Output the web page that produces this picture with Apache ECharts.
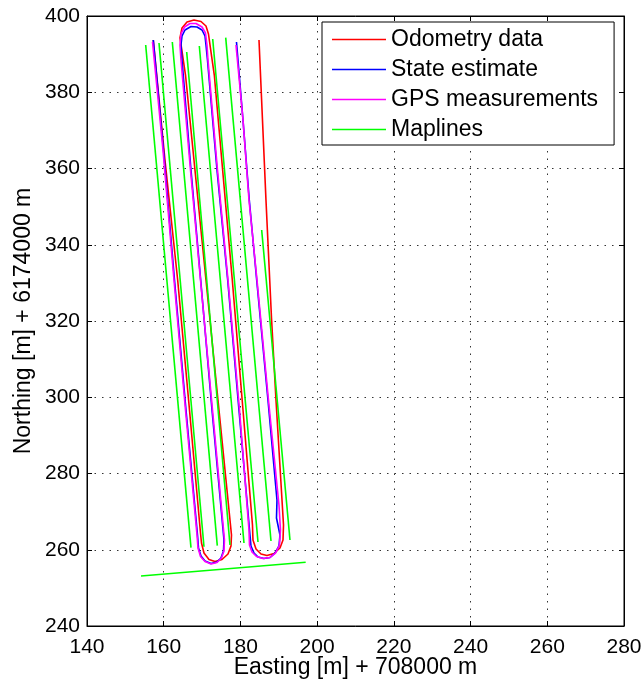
<!DOCTYPE html>
<html>
<head>
<meta charset="utf-8">
<script src="https://cdn.jsdelivr.net/npm/echarts@6/dist/echarts.min.js"></script>
<style>
html,body{margin:0;padding:0;background:#fff;}
#chart{width:642px;height:686px;}
</style>
</head>
<body>
<div id="chart"></div>
<script>
// Axis ranges / ticks
var xTicks = [140, 160, 180, 200, 220, 240, 260, 280];
var yTicks = [240, 260, 280, 300, 320, 340, 360, 380, 400];

// Odometry data [easting, northing]
var odometry = [
  [157.28, 393.70], [160.33, 362.23], [163.64, 330.75], [166.72, 296.65], [169.59, 264.39],
  [169.85, 261.77], [170.50, 259.14], [171.80, 257.44], [173.37, 256.92], [175.19, 257.44],
  [176.76, 258.88], [177.54, 260.98], [177.67, 263.87],
  [174.41, 296.65], [171.02, 330.75], [168.15, 359.61], [165.68, 384.52], [164.64, 391.61],
  [164.24, 394.23], [164.77, 396.85], [166.07, 398.43], [167.89, 398.95], [169.72, 398.56],
  [171.02, 397.38], [171.67, 395.28], [172.07, 392.39], [173.19, 384.52],
  [177.88, 330.75], [180.67, 296.65], [183.14, 266.49],
  [183.27, 262.56], [184.06, 260.20], [185.36, 258.88], [186.92, 258.49], [188.75, 259.01],
  [190.31, 260.46], [191.10, 262.56], [191.23, 266.49],
  [189.27, 299.28], [188.10, 320.79], [186.66, 351.74], [184.84, 393.70]
];

// State estimate
var stateEstimate = [
  [157.28, 393.70], [159.94, 364.85], [162.81, 330.75], [165.81, 296.65], [168.81, 263.87],
  [169.07, 260.46], [169.72, 258.36], [170.76, 257.05], [172.33, 256.39], [173.89, 256.79],
  [174.93, 257.84], [175.58, 259.67], [175.71, 262.56],
  [172.59, 296.65], [169.64, 330.75], [167.11, 359.61], [164.77, 388.46],
  [164.50, 392.39], [164.77, 394.75], [165.55, 396.33], [167.11, 397.25], [168.68, 397.11],
  [169.98, 396.33], [170.76, 394.75], [171.02, 392.39],
  [171.41, 388.46], [173.89, 359.61], [176.68, 330.75], [179.62, 296.65], [182.49, 263.87],
  [182.75, 260.98], [183.54, 259.14], [184.58, 258.09], [186.14, 257.70], [187.71, 257.97],
  [189.01, 259.14], [190.05, 260.98], [190.31, 263.87],
  [189.40, 268.32], [189.53, 273.05], [187.18, 299.28], [184.24, 330.75], [182.31, 351.74],
  [180.67, 372.72], [178.97, 393.18]
];

// GPS measurements
var gpsMeasurements = [
  [157.08, 393.18], [159.81, 364.85], [162.68, 330.75], [165.68, 296.65], [168.68, 263.87],
  [168.94, 260.46], [169.59, 258.22], [170.76, 256.92], [172.33, 256.26], [173.89, 256.65],
  [175.06, 257.84], [175.71, 259.67], [175.84, 262.56],
  [172.72, 296.65], [169.59, 330.75], [166.98, 359.61], [164.50, 388.46],
  [164.24, 392.39], [164.50, 395.28], [165.42, 397.11], [166.85, 398.03], [168.42, 398.03],
  [169.98, 397.11], [170.89, 395.54], [171.28, 392.39],
  [171.54, 388.46], [174.02, 359.61], [176.76, 330.75], [179.76, 296.65], [182.23, 265.18],
  [182.36, 261.24], [183.01, 259.41], [184.19, 258.22], [185.88, 257.70], [187.71, 257.97],
  [189.14, 259.14], [190.18, 261.24], [190.44, 265.18],
  [190.05, 271.74], [187.31, 299.28], [184.32, 330.75], [182.23, 351.74], [180.67, 372.72],
  [178.84, 392.39]
];

// Maplines (each a straight segment)
var maplines = [
  [[155.30, 392.39], [167.11, 260.54]],
  [[158.77, 392.92], [170.50, 260.80]],
  [[162.24, 393.18], [173.97, 261.07]],
  [[165.99, 390.56], [177.28, 261.25]],
  [[169.28, 392.13], [180.93, 261.77]],
  [[172.77, 393.97], [184.58, 262.03]],
  [[176.16, 394.31], [187.97, 262.30]],
  [[185.54, 343.87], [192.92, 262.56]],
  [[154.08, 253.12], [197.01, 256.71]]
];

var FONT = 'Liberation Sans';
var chart = echarts.init(document.getElementById('chart'), null, {renderer: 'canvas'});

function lineSeries(name, data, color) {
  return {
    name: name, type: 'line', data: data, symbol: 'none', showSymbol: false,
    lineStyle: {color: color, width: 1.6}, itemStyle: {color: color},
    animation: false, silent: true, xAxisIndex: 0, yAxisIndex: 0
  };
}

var series = [
  lineSeries('Odometry data', odometry, '#ff0000'),
  lineSeries('State estimate', stateEstimate, '#0000ff'),
  lineSeries('GPS measurements', gpsMeasurements, '#ff00ff')
];
maplines.forEach(function (seg) {
  series.push(lineSeries('Maplines', seg, '#00ff00'));
});

var gridLine = {show: true, lineStyle: {color: '#333', width: 1, type: [1.5, 6]}};
var tickIn = {show: true, inside: true, length: 5, lineStyle: {color: '#000'}};

var option = {
  animation: false,
  backgroundColor: '#fff',
  grid: {left: 87, right: 18, top: 16, bottom: 60, show: true, borderColor: '#000', borderWidth: 1,
         backgroundColor: '#fff', containLabel: false, outerBoundsMode: 'none'},
  legend: {
    data: ['Odometry data', 'State estimate', 'GPS measurements', 'Maplines'],
    orient: 'vertical', left: 322, top: 22,
    padding: [6, 16, 4, 10],
    itemWidth: 54, itemHeight: 14, itemGap: 7,
    icon: 'path://M0,0L54,0L54,1.3L0,1.3Z',
    backgroundColor: '#fff', borderColor: '#000', borderWidth: 1,
    textStyle: {fontFamily: FONT, fontSize: 23, color: '#000', lineHeight: 23},
    selectedMode: false
  },
  xAxis: [{
    type: 'value', min: xTicks[0], max: xTicks[xTicks.length - 1], interval: 20,
    position: 'bottom',
    name: 'Easting [m] + 708000 m', nameLocation: 'middle', nameGap: 30, nameMoveOverlap: false,
    nameTextStyle: {fontFamily: FONT, fontSize: 23, color: '#000'},
    axisLine: {show: true, lineStyle: {color: '#000'}},
    axisTick: tickIn,
    axisLabel: {fontFamily: FONT, fontSize: 21, color: '#000', margin: 11},
    splitLine: gridLine
  }, {
    type: 'value', min: xTicks[0], max: xTicks[xTicks.length - 1], interval: 20,
    position: 'top', axisLine: {show: true, lineStyle: {color: '#000'}},
    axisTick: tickIn, axisLabel: {show: false}, splitLine: {show: false}
  }],
  yAxis: [{
    type: 'value', min: yTicks[0], max: yTicks[yTicks.length - 1], interval: 20,
    position: 'left',
    name: 'Northing [m] + 6174000 m', nameLocation: 'middle', nameGap: 52, nameRotate: 90,
    nameMoveOverlap: false,
    nameTextStyle: {fontFamily: FONT, fontSize: 23, color: '#000'},
    axisLine: {show: true, lineStyle: {color: '#000'}},
    axisTick: tickIn,
    axisLabel: {fontFamily: FONT, fontSize: 21, color: '#000', margin: 7},
    splitLine: gridLine
  }, {
    type: 'value', min: yTicks[0], max: yTicks[yTicks.length - 1], interval: 20,
    position: 'right', axisLine: {show: true, lineStyle: {color: '#000'}},
    axisTick: tickIn, axisLabel: {show: false}, splitLine: {show: false}
  }],
  series: series
};
chart.setOption(option);
</script>
</body>
</html>
